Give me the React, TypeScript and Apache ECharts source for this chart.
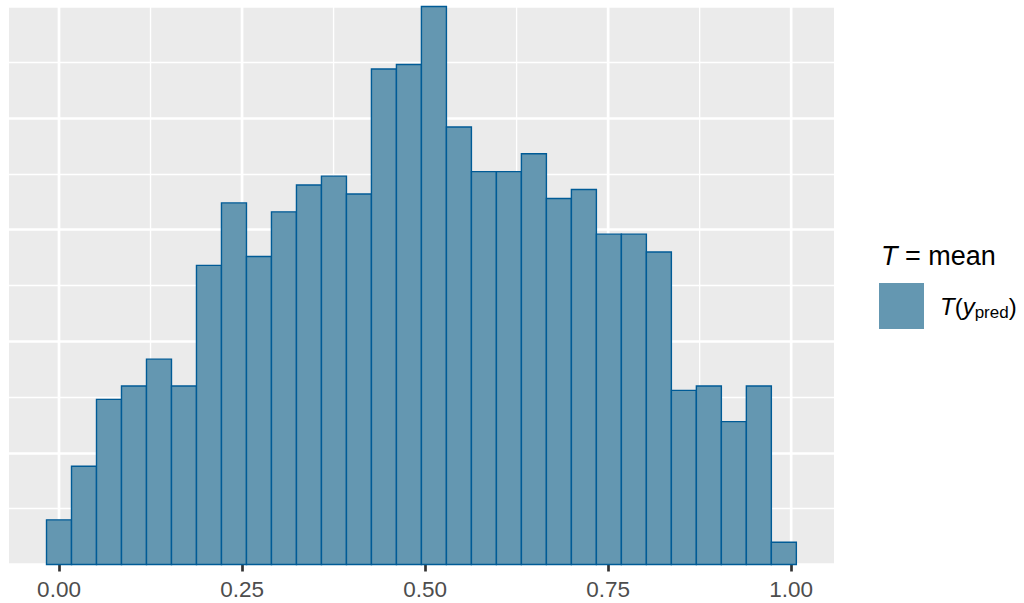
import React, { useEffect, useRef } from "react";
import * as echarts from "echarts";

// Histogram of T(y_pred), T = mean  (30 bins, 2000 draws)
const counts = [10, 22, 37, 40, 46, 40, 67, 81, 69, 79, 85, 87, 83, 111, 112, 125, 98, 88, 88, 92, 82, 84, 74, 74, 70, 39, 40, 32, 40, 5];
const binStart = -0.01707;
const binWidth = 0.034138;
const xBreaks = [0, 0.25, 0.5, 0.75, 1.0];
const xMinorBreaks = [0.125, 0.375, 0.625, 0.875];
const xLabels = ["0.00", "0.25", "0.50", "0.75", "1.00"];
const xMin = -0.0683;
const xMax = 1.0585;
const yMax = 125;

const FONT = "Liberation Sans, Arial, Helvetica, sans-serif";

export default function App() {
  const ref = useRef<HTMLDivElement>(null);
  useEffect(() => {
    if (!ref.current) return;
    const chart = echarts.init(ref.current, undefined, { renderer: "svg" });
    const barData = counts.map((c, i) => [binStart + i * binWidth, binStart + (i + 1) * binWidth, c]);
    const gridData = [...xBreaks.map((v) => [v, 1]), ...xMinorBreaks.map((v) => [v, 0])];
    chart.setOption({
      animation: false,
      grid: {
        left: 9,
        right: 190,
        top: 6.5,
        bottom: 38.5,
        show: true,
        backgroundColor: "#EBEBEB",
        borderWidth: 0,
      },
      xAxis: {
        type: "value",
        min: xMin,
        max: xMax,
        axisLine: { show: false },
        splitLine: { show: false },
        axisTick: {
          show: true,
          customValues: xBreaks,
          length: 7,
          lineStyle: { color: "#333333", width: 2.7 },
        },
        axisLabel: {
          show: true,
          customValues: xBreaks,
          formatter: (v: number) => {
            const i = xBreaks.findIndex((b) => Math.abs(b - v) < 1e-9);
            return i >= 0 ? xLabels[i] : "";
          },
          color: "#4D4D4D",
          fontSize: 22.5,
          fontFamily: FONT,
          margin: 13.5,
        },
      },
      yAxis: {
        type: "value",
        min: 0,
        max: yMax,
        interval: 25,
        axisLine: { show: false },
        axisTick: { show: false },
        axisLabel: { show: false },
        splitLine: { show: true, lineStyle: { color: "#FFFFFF", width: 2.7 } },
        minorTick: { show: false, splitNumber: 2 },
        minorSplitLine: { show: true, lineStyle: { color: "#FFFFFF", width: 1.35 } },
      },
      series: [
        {
          type: "custom",
          name: "vgrid",
          silent: true,
          encode: { x: 0, y: 1 },
          data: gridData,
          renderItem: (params: any, api: any) => {
            const v = api.value(0);
            const major = api.value(1) === 1;
            const p0 = api.coord([v, 0]);
            const p1 = api.coord([v, yMax]);
            return {
              type: "line",
              shape: { x1: p0[0], y1: p0[1], x2: p1[0], y2: p1[1] },
              style: { stroke: "#FFFFFF", lineWidth: major ? 2.7 : 1.35 },
            };
          },
        },
        {
          type: "custom",
          name: "T(y_pred)",
          encode: { x: [0, 1], y: 2 },
          data: barData,
          renderItem: (params: any, api: any) => {
            const p0 = api.coord([api.value(0), 0]);
            const p1 = api.coord([api.value(1), api.value(2)]);
            return {
              type: "rect",
              shape: { x: p0[0], y: p1[1], width: p1[0] - p0[0], height: p0[1] - p1[1] },
              style: { fill: "#6497b1", stroke: "#005b96", lineWidth: 1.4 },
            };
          },
        },
      ],
      graphic: [
        {
          type: "text",
          x: 881,
          y: 256,
          style: {
            text: "{it|T}{n|\u00A0=\u00A0mean}",
            verticalAlign: "middle",
            align: "left",
            fill: "#000000",
            rich: {
              it: { fontStyle: "italic", fontSize: 27, fontFamily: FONT, fill: "#000000" },
              n: { fontSize: 27, fontFamily: FONT, fill: "#000000" },
            },
          },
        },
        {
          type: "rect",
          shape: { x: 879, y: 283, width: 45, height: 46 },
          style: { fill: "#6497b1" },
        },
        {
          type: "text",
          x: 940,
          y: 306,
          style: {
            text: "{it|T}{n|(}{it|y}{sub|pred}{n|)}",
            verticalAlign: "middle",
            align: "left",
            fill: "#000000",
            rich: {
              it: { fontStyle: "italic", fontSize: 24, fontFamily: FONT, fill: "#000000", lineHeight: 30, verticalAlign: "middle" },
              n: { fontSize: 24, fontFamily: FONT, fill: "#000000", lineHeight: 30, verticalAlign: "middle" },
              sub: { fontSize: 17, fontFamily: FONT, fill: "#000000", lineHeight: 15, verticalAlign: "bottom" },
            },
          },
        },
      ],
    });
    return () => chart.dispose();
  }, []);
  return (
    <div
      ref={ref}
      style={{ position: "absolute", left: 0, top: 0, width: 1024, height: 603 }}
    />
  );
}
